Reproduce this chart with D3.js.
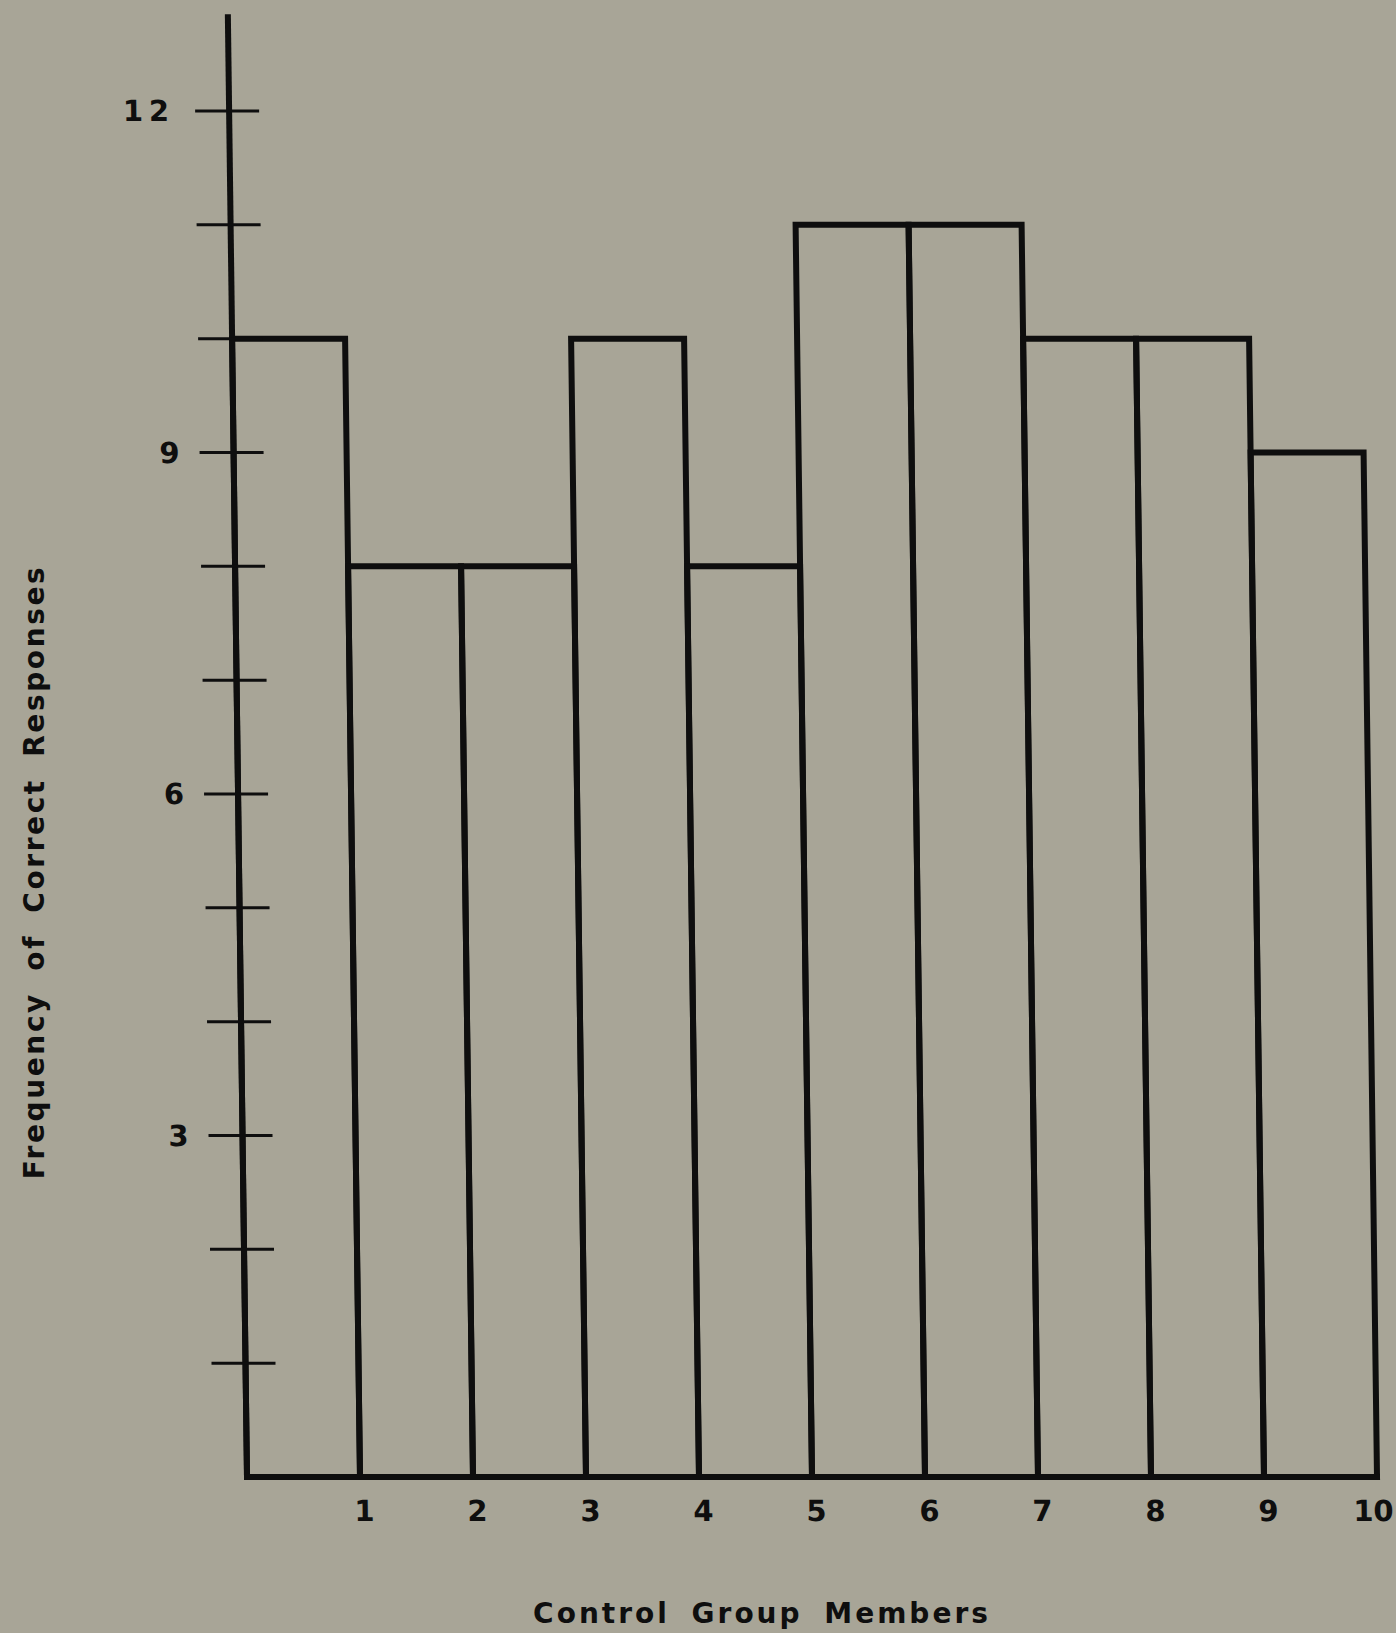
<!DOCTYPE html>
<html>
<head>
<meta charset="utf-8">
<script src="https://cdn.jsdelivr.net/npm/d3@7"></script>
<style>
  html, body { margin: 0; padding: 0; background: #a8a597; }
  svg { display: block; }
</style>
</head>
<body>
<div id="chart"></div>
<script>
// control group members and their correct responses
const members = ["1", "2", "3", "4", "5", "6", "7", "8", "9", "10"];
const frequencies = [10, 8, 8, 10, 8, 11, 11, 10, 10, 9];
const yTicks = [1, 2, 3, 4, 5, 6, 7, 8, 9, 10, 11, 12];
const yTickLabels = [3, 6, 9, 12];

const width = 1396,
  height = 1633;
const baseY = 1477;
const font = "DejaVu Sans, Liberation Sans, Arial, sans-serif";

const svg = d3.select("#chart")
  .append("svg")
  .attr("width", width)
  .attr("height", height);

svg.append("rect")
  .attr("width", width)
  .attr("height", height)
  .attr("fill", "#a8a597");

const x = d3.scaleLinear().domain([0, members.length]).range([247, 1377]);
const y = d3.scaleLinear().domain([0, 12]).range([baseY, 111]);

// the scanned figure leans a little, so lean the plot too
const g = svg.append("g")
  .attr("transform", `translate(0,${baseY}) skewX(0.75) translate(0,${-baseY})`);

// bars
g.append("g")
  .attr("fill", "none")
  .attr("stroke", "#0e0e0e")
  .attr("stroke-width", 6)
  .selectAll("rect")
  .data(frequencies)
  .join("rect")
  .attr("x", (d, i) => x(i))
  .attr("y", d => y(d))
  .attr("width", (d, i) => x(i + 1) - x(i))
  .attr("height", d => y(0) - y(d));

// y axis line and baseline
g.append("line")
  .attr("x1", x(0)).attr("x2", x(0))
  .attr("y1", y(0) + 3).attr("y2", y(12.85))
  .attr("stroke", "#0e0e0e")
  .attr("stroke-width", 6);

g.append("line")
  .attr("x1", x(0) - 3).attr("x2", x(members.length) + 3)
  .attr("y1", y(0)).attr("y2", y(0))
  .attr("stroke", "#0e0e0e")
  .attr("stroke-width", 6);

// y ticks
g.append("g")
  .attr("stroke", "#0e0e0e")
  .attr("stroke-width", 3)
  .selectAll("line")
  .data(yTicks)
  .join("line")
  .attr("x1", x(0) - 34)
  .attr("x2", x(0) + 30)
  .attr("y1", d => y(d))
  .attr("y2", d => y(d));

g.append("g")
  .attr("font-family", font)
  .attr("font-weight", "bold")
  .attr("font-size", 29)
  .attr("fill", "#0e0e0e")
  .attr("text-anchor", "end")
  .selectAll("text")
  .data(yTickLabels)
  .join("text")
  .attr("x", x(0) - 54)
  .attr("y", d => y(d))
  .attr("dy", "0.36em")
  .attr("letter-spacing", d => d >= 10 ? 6 : 0)
  .text(d => d);

// x labels at bar boundaries
g.append("g")
  .attr("font-family", font)
  .attr("font-weight", "bold")
  .attr("font-size", 29)
  .attr("fill", "#0e0e0e")
  .attr("text-anchor", "middle")
  .selectAll("text")
  .data(members)
  .join("text")
  .attr("x", (d, i) => x(i + 1) + (i === members.length - 1 ? -4 : 4))
  .attr("y", 1521)
  .text(d => d);

// axis titles
svg.append("text")
  .attr("x", 762)
  .attr("y", 1623)
  .attr("text-anchor", "middle")
  .attr("font-family", font)
  .attr("font-weight", "bold")
  .attr("font-size", 28)
  .attr("letter-spacing", 3)
  .attr("word-spacing", 9)
  .attr("fill", "#0e0e0e")
  .text("Control Group Members");

svg.append("text")
  .attr("transform", "translate(44,872) rotate(-90)")
  .attr("text-anchor", "middle")
  .attr("font-family", font)
  .attr("font-weight", "bold")
  .attr("font-size", 28)
  .attr("letter-spacing", 2.6)
  .attr("word-spacing", 9)
  .attr("fill", "#0e0e0e")
  .text("Frequency of Correct Responses");
</script>
</body>
</html>
